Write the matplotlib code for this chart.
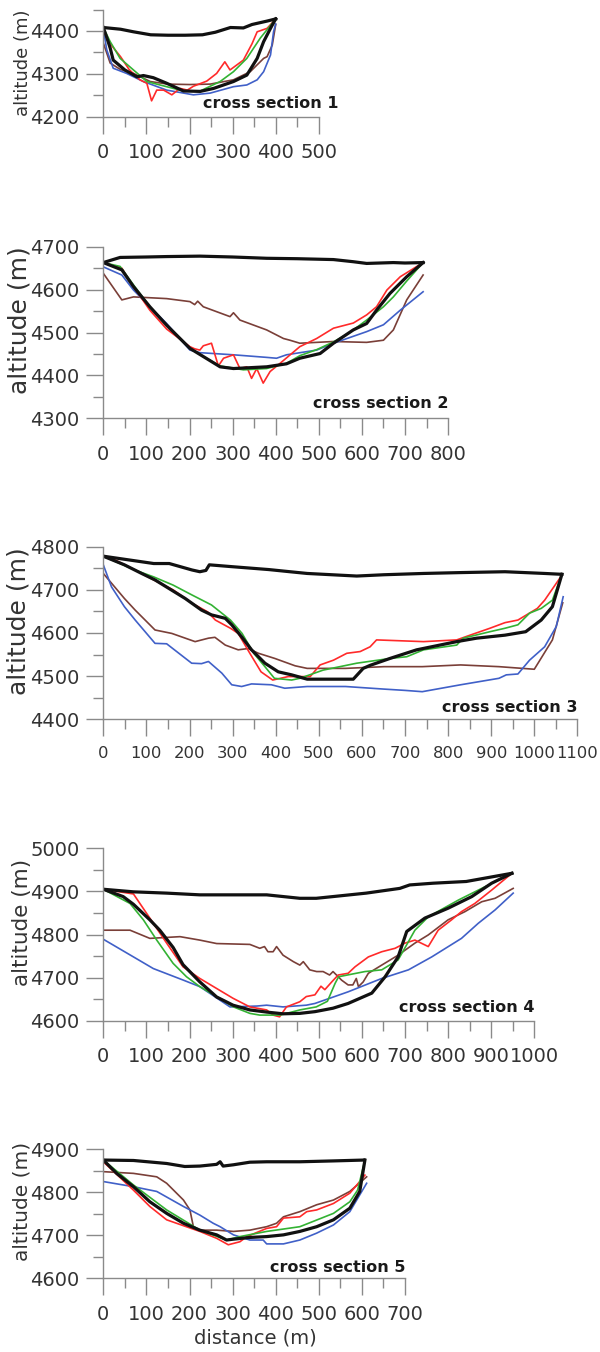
import matplotlib
matplotlib.use('Agg')
import matplotlib.pyplot as plt
from matplotlib.ticker import MultipleLocator

# ---- cross section 1 ----
cs1_surface_x = [0, 40, 70, 110, 150, 190, 230, 260, 295, 325, 345, 380, 400]
cs1_surface_z = [4408, 4404, 4398, 4391, 4390, 4390, 4391, 4397, 4408, 4407, 4415, 4423, 4428]
cs1_bed_x = [0, 8, 16, 23, 50, 78, 93, 116, 147, 186, 225, 256, 302, 333, 357, 372, 390, 400]
cs1_bed_z = [4408, 4385, 4360, 4332, 4309, 4293, 4296, 4291, 4278, 4260, 4259, 4266, 4282, 4297, 4336, 4375, 4410, 4428]
cs1_green_x = [0, 16, 39, 70, 101, 147, 186, 225, 271, 302, 333, 364, 400]
cs1_green_z = [4408, 4375, 4336, 4309, 4282, 4270, 4260, 4260, 4282, 4305, 4336, 4383, 4428]
cs1_red_x = [0, 20, 40, 60, 85, 101, 112, 124, 140, 159, 178, 195, 209, 240, 263, 282, 294, 325, 345, 357, 380, 400]
cs1_red_z = [4400, 4365, 4340, 4310, 4286, 4278, 4237, 4262, 4262, 4251, 4266, 4262, 4271, 4283, 4301, 4328, 4309, 4332, 4370, 4398, 4406, 4428]
cs1_blue_x = [0, 8, 23, 54, 93, 147, 209, 248, 302, 333, 357, 372, 388, 395, 400]
cs1_blue_z = [4405, 4356, 4313, 4301, 4282, 4262, 4251, 4255, 4270, 4274, 4286, 4305, 4344, 4398, 4416]
cs1_brown_x = [0, 16, 40, 70, 109, 150, 200, 248, 302, 341, 372, 380, 392, 400]
cs1_brown_z = [4372, 4325, 4310, 4301, 4282, 4276, 4275, 4276, 4286, 4305, 4336, 4340, 4367, 4415]

# ---- cross section 2 ----
cs2_surface_x = [0, 39, 100, 147, 224, 300, 379, 450, 534, 580, 611, 673, 700, 742]
cs2_surface_z = [4663, 4675, 4676, 4677, 4678, 4676, 4673, 4672, 4670, 4665, 4661, 4663, 4662, 4663]
cs2_bed_x = [0, 43, 70, 108, 147, 201, 232, 271, 302, 379, 425, 456, 503, 534, 580, 611, 634, 665, 704, 742]
cs2_bed_z = [4663, 4646, 4607, 4560, 4517, 4463, 4444, 4420, 4416, 4420, 4427, 4440, 4451, 4475, 4506, 4521, 4552, 4591, 4630, 4663]
cs2_green_x = [0, 39, 70, 108, 147, 201, 232, 271, 325, 379, 425, 456, 495, 534, 572, 611, 650, 673, 704, 742]
cs2_green_z = [4663, 4654, 4611, 4560, 4517, 4463, 4444, 4422, 4413, 4416, 4428, 4446, 4460, 4478, 4500, 4529, 4560, 4583, 4620, 4663]
cs2_red_x = [0, 43, 70, 108, 147, 201, 212, 224, 232, 251, 267, 279, 302, 317, 333, 344, 356, 371, 387, 410, 456, 495, 534, 580, 611, 634, 658, 689, 742]
cs2_red_z = [4663, 4650, 4607, 4552, 4508, 4467, 4462, 4459, 4469, 4475, 4422, 4440, 4448, 4416, 4420, 4393, 4416, 4382, 4409, 4428, 4467, 4486, 4510, 4522, 4541, 4560, 4599, 4630, 4663]
cs2_blue_x = [0, 43, 70, 108, 147, 201, 224, 302, 379, 402, 425, 495, 534, 611, 650, 689, 742]
cs2_blue_z = [4653, 4634, 4599, 4560, 4521, 4459, 4453, 4448, 4442, 4440, 4448, 4459, 4475, 4502, 4518, 4552, 4595]
cs2_brown_x = [0, 43, 70, 147, 201, 212, 219, 232, 294, 302, 317, 379, 418, 433, 456, 534, 611, 650, 673, 704, 742]
cs2_brown_z = [4638, 4576, 4583, 4579, 4572, 4565, 4573, 4560, 4537, 4546, 4529, 4506, 4486, 4482, 4475, 4479, 4477, 4482, 4506, 4576, 4634]

# ---- cross section 3 ----
cs3_surface_x = [0, 117, 153, 206, 224, 238, 246, 295, 384, 433, 473, 588, 651, 743, 829, 932, 1024, 1064]
cs3_surface_z = [4778, 4761, 4761, 4746, 4742, 4745, 4758, 4754, 4747, 4742, 4738, 4732, 4735, 4738, 4740, 4742, 4738, 4736]
cs3_bed_x = [0, 49, 89, 120, 151, 190, 228, 251, 283, 298, 321, 344, 375, 406, 437, 462, 473, 562, 580, 603, 619, 665, 727, 820, 866, 932, 980, 1016, 1042, 1064]
cs3_bed_z = [4778, 4758, 4738, 4723, 4704, 4680, 4653, 4642, 4634, 4619, 4591, 4561, 4530, 4510, 4503, 4496, 4493, 4493, 4493, 4518, 4525, 4541, 4561, 4580, 4588, 4595, 4603, 4630, 4661, 4736]
cs3_green_x = [0, 73, 117, 162, 206, 251, 295, 322, 349, 375, 397, 437, 456, 510, 588, 665, 704, 743, 820, 835, 897, 932, 962, 989, 1016, 1042, 1064]
cs3_green_z = [4778, 4746, 4730, 4711, 4688, 4665, 4630, 4599, 4553, 4522, 4495, 4491, 4495, 4514, 4530, 4541, 4545, 4561, 4572, 4588, 4603, 4611, 4619, 4646, 4657, 4676, 4736]
cs3_red_x = [0, 28, 73, 117, 162, 206, 242, 260, 295, 313, 340, 366, 393, 429, 480, 503, 534, 565, 596, 619, 634, 743, 820, 851, 897, 932, 962, 1007, 1024, 1064]
cs3_red_z = [4778, 4769, 4746, 4723, 4700, 4669, 4649, 4630, 4611, 4599, 4553, 4510, 4491, 4499, 4499, 4526, 4537, 4553, 4557, 4568, 4584, 4580, 4584, 4595, 4611, 4624, 4630, 4657, 4676, 4734]
cs3_blue_x = [0, 19, 49, 74, 120, 147, 205, 228, 244, 275, 298, 321, 344, 390, 421, 473, 562, 651, 700, 740, 829, 918, 935, 962, 989, 1024, 1051, 1067]
cs3_blue_z = [4758, 4707, 4661, 4630, 4576, 4575, 4530, 4529, 4534, 4507, 4480, 4476, 4482, 4480, 4472, 4476, 4476, 4470, 4467, 4464, 4480, 4495, 4503, 4505, 4537, 4568, 4615, 4684]
cs3_brown_x = [0, 49, 74, 120, 159, 213, 244, 259, 283, 313, 336, 360, 398, 445, 473, 562, 651, 740, 829, 918, 1000, 1042, 1066]
cs3_brown_z = [4738, 4680, 4653, 4607, 4599, 4580, 4588, 4590, 4572, 4561, 4564, 4553, 4541, 4524, 4518, 4518, 4522, 4522, 4526, 4522, 4516, 4584, 4670]

# ---- cross section 4 ----
cs4_surface_x = [0, 70, 147, 224, 301, 379, 456, 494, 533, 610, 688, 711, 765, 842, 881, 948]
cs4_surface_z = [4905, 4899, 4896, 4892, 4892, 4892, 4884, 4884, 4888, 4896, 4907, 4915, 4919, 4923, 4930, 4942]
cs4_bed_x = [0, 46, 70, 108, 131, 162, 185, 224, 263, 301, 340, 379, 417, 456, 491, 533, 568, 623, 654, 684, 704, 746, 800, 855, 901, 948]
cs4_bed_z = [4905, 4888, 4870, 4834, 4810, 4770, 4730, 4690, 4655, 4636, 4625, 4620, 4616, 4617, 4621, 4629, 4640, 4664, 4702, 4748, 4807, 4838, 4861, 4888, 4919, 4942]
cs4_green_x = [0, 62, 93, 124, 162, 193, 224, 263, 302, 340, 363, 410, 456, 494, 520, 538, 546, 607, 646, 684, 723, 754, 824, 878, 948]
cs4_green_z = [4905, 4872, 4834, 4787, 4733, 4702, 4679, 4656, 4632, 4617, 4613, 4613, 4625, 4632, 4645, 4687, 4702, 4714, 4718, 4741, 4810, 4841, 4880, 4907, 4942]
cs4_red_x = [0, 70, 108, 147, 185, 224, 301, 340, 379, 394, 409, 425, 456, 471, 491, 505, 514, 530, 545, 568, 584, 615, 646, 677, 700, 723, 754, 777, 808, 831, 862, 901, 948]
cs4_red_z = [4905, 4894, 4838, 4780, 4725, 4698, 4652, 4632, 4625, 4613, 4609, 4632, 4644, 4656, 4660, 4680, 4672, 4690, 4706, 4710, 4725, 4748, 4760, 4768, 4780, 4787, 4772, 4810, 4834, 4853, 4872, 4903, 4942]
cs4_blue_x = [0, 70, 116, 186, 224, 294, 356, 379, 417, 471, 491, 568, 646, 708, 762, 831, 870, 909, 951]
cs4_blue_z = [4789, 4748, 4721, 4694, 4679, 4632, 4634, 4636, 4632, 4636, 4640, 4667, 4698, 4718, 4748, 4791, 4826, 4857, 4896]
cs4_brown_x = [0, 62, 108, 178, 224, 263, 340, 363, 374, 382, 394, 402, 417, 441, 456, 464, 479, 495, 510, 525, 533, 553, 568, 579, 587, 592, 603, 615, 646, 684, 723, 754, 800, 839, 878, 909, 951]
cs4_brown_z = [4810, 4810, 4791, 4795, 4787, 4779, 4777, 4768, 4772, 4760, 4760, 4772, 4752, 4737, 4729, 4737, 4718, 4714, 4714, 4706, 4714, 4694, 4683, 4683, 4698, 4679, 4690, 4710, 4729, 4752, 4780, 4799, 4834, 4853, 4876, 4884, 4907]

# ---- cross section 5 ----
cs5_surface_x = [0, 70, 147, 189, 224, 263, 271, 278, 302, 340, 379, 456, 534, 605]
cs5_surface_z = [4875, 4874, 4867, 4860, 4861, 4865, 4871, 4861, 4864, 4870, 4871, 4871, 4873, 4875]
cs5_bed_x = [0, 31, 70, 108, 147, 186, 224, 263, 286, 302, 340, 379, 418, 456, 495, 534, 572, 595, 607]
cs5_bed_z = [4875, 4844, 4813, 4778, 4751, 4728, 4712, 4701, 4689, 4691, 4695, 4697, 4701, 4709, 4720, 4736, 4763, 4802, 4875]
cs5_green_x = [0, 70, 147, 224, 286, 317, 379, 456, 534, 572, 590, 607]
cs5_green_z = [4875, 4817, 4759, 4712, 4689, 4697, 4709, 4720, 4751, 4778, 4805, 4875]
cs5_red_x = [0, 70, 108, 147, 224, 263, 290, 317, 333, 379, 402, 418, 456, 472, 495, 534, 572, 595, 607]
cs5_red_z = [4871, 4805, 4767, 4736, 4709, 4693, 4678, 4685, 4697, 4716, 4720, 4740, 4743, 4755, 4759, 4774, 4798, 4825, 4840]
cs5_blue_x = [0, 70, 124, 186, 224, 255, 271, 302, 340, 371, 379, 418, 456, 495, 534, 572, 611]
cs5_blue_z = [4825, 4813, 4802, 4767, 4747, 4728, 4720, 4701, 4689, 4689, 4680, 4680, 4689, 4705, 4724, 4755, 4821]
cs5_brown_x = [0, 70, 124, 147, 186, 201, 209, 224, 263, 302, 340, 379, 402, 418, 456, 495, 534, 572, 611]
cs5_brown_z = [4848, 4844, 4836, 4821, 4782, 4759, 4720, 4712, 4712, 4709, 4712, 4720, 4728, 4743, 4755, 4771, 4782, 4802, 4836]

sections = [
    dict(name='cross section 1', xmax=500, ylim=(4200, 4450), top=9.5, bottom=116.7,
         lines=[(cs1_brown_x, cs1_brown_z, 'brown'), (cs1_blue_x, cs1_blue_z, 'blue'),
                (cs1_red_x, cs1_red_z, 'red'), (cs1_green_x, cs1_green_z, 'green'),
                (cs1_bed_x, cs1_bed_z, 'black'), (cs1_surface_x, cs1_surface_z, 'black')],
         ylab_x=23, ylab_size=13, txt_y=103, xlab_size=14),
    dict(name='cross section 2', xmax=800, ylim=(4300, 4700), top=246.7, bottom=418.3,
         lines=[(cs2_brown_x, cs2_brown_z, 'brown'), (cs2_blue_x, cs2_blue_z, 'blue'),
                (cs2_red_x, cs2_red_z, 'red'), (cs2_green_x, cs2_green_z, 'green'),
                (cs2_bed_x, cs2_bed_z, 'black'), (cs2_surface_x, cs2_surface_z, 'black')],
         ylab_x=20, ylab_size=18, txt_y=403, xlab_size=14),
    dict(name='cross section 3', xmax=1100, ylim=(4400, 4800), top=546.7, bottom=719.3,
         lines=[(cs3_brown_x, cs3_brown_z, 'brown'), (cs3_blue_x, cs3_blue_z, 'blue'),
                (cs3_red_x, cs3_red_z, 'red'), (cs3_green_x, cs3_green_z, 'green'),
                (cs3_bed_x, cs3_bed_z, 'black'), (cs3_surface_x, cs3_surface_z, 'black')],
         ylab_x=19, ylab_size=18, txt_y=707, xlab_size=11.8),
    dict(name='cross section 4', xmax=1000, ylim=(4600, 5000), top=848.3, bottom=1020.7,
         lines=[(cs4_brown_x, cs4_brown_z, 'brown'), (cs4_blue_x, cs4_blue_z, 'blue'),
                (cs4_red_x, cs4_red_z, 'red'), (cs4_green_x, cs4_green_z, 'green'),
                (cs4_bed_x, cs4_bed_z, 'black'), (cs4_surface_x, cs4_surface_z, 'black')],
         ylab_x=22, ylab_size=15.5, txt_y=1008, xlab_size=14),
    dict(name='cross section 5', xmax=700, ylim=(4600, 4900), top=1149.3, bottom=1278.3,
         lines=[(cs5_brown_x, cs5_brown_z, 'brown'), (cs5_blue_x, cs5_blue_z, 'blue'),
                (cs5_red_x, cs5_red_z, 'red'), (cs5_green_x, cs5_green_z, 'green'),
                (cs5_bed_x, cs5_bed_z, 'black'), (cs5_surface_x, cs5_surface_z, 'black')],
         ylab_x=22, ylab_size=14.5, txt_y=1267, xlab_size=14),
]

colors = {'black': '#111111', 'red': '#ff2a2a', 'green': '#33b233',
          'blue': '#4060c8', 'brown': '#7a3f38'}
widths = {'black': 2.3, 'red': 1.2, 'green': 1.2, 'blue': 1.2, 'brown': 1.2}

W, H = 600, 1352
LEFT = 103.3
PX_PER_M = 0.431
grey = '#8a8a8a'
textc = '#333333'

fig = plt.figure(figsize=(W / 100, H / 100), dpi=100)

for s in sections:
    right = LEFT + s['xmax'] * PX_PER_M
    ax = fig.add_axes([LEFT / W, 1 - s['bottom'] / H, (right - LEFT) / W,
                       (s['bottom'] - s['top']) / H])
    for x, z, c in s['lines']:
        ax.plot(x, z, color=colors[c], lw=widths[c], solid_joinstyle='round')
    ax.set_xlim(0, s['xmax'])
    ax.set_ylim(*s['ylim'])
    ax.xaxis.set_major_locator(MultipleLocator(100))
    ax.xaxis.set_minor_locator(MultipleLocator(50))
    ax.yaxis.set_major_locator(MultipleLocator(100))
    ax.yaxis.set_minor_locator(MultipleLocator(50))
    for side in ['top', 'right']:
        ax.spines[side].set_visible(False)
    for side in ['left', 'bottom']:
        ax.spines[side].set_color(grey)
        ax.spines[side].set_linewidth(1.0)
    ax.tick_params(which='major', length=12, width=1.0, color=grey,
                   labelsize=14, labelcolor=textc)
    ax.tick_params(which='minor', length=7, width=1.0, color=grey)
    ax.tick_params(axis='x', which='major', pad=7, labelsize=s['xlab_size'])
    ax.tick_params(axis='y', which='major', pad=5)
    ax.patch.set_alpha(0)

    # vertical axis title
    mid = (s['top'] + s['bottom']) / 2 - (0 if s['name'].endswith('1') else 12)
    fig.text(s['ylab_x'] / W, 1 - mid / H, 'altitude (m)', rotation=90,
             ha='center', va='center', fontsize=s['ylab_size'], color=textc)
    # section label
    txt_right = right + 20 if s['name'].endswith('1') else right
    fig.text(txt_right / W, 1 - s['txt_y'] / H, s['name'], ha='right', va='center',
             fontsize=11.5, fontweight='bold', color='#1a1a1a')

fig.text(255 / W, 1 - 1338 / H, 'distance (m)', ha='center', va='center',
         fontsize=14, color=textc)

fig.savefig('out.png', dpi=100, facecolor='white')
